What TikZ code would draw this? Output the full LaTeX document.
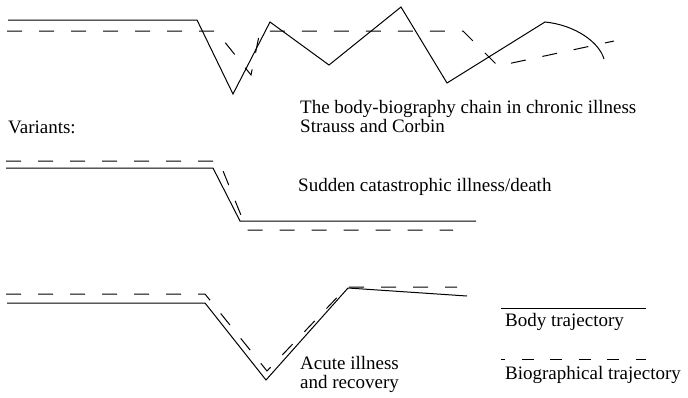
\documentclass[tikz,border=0pt]{standalone}
\usepackage{fontspec}
\setmainfont{Liberation Serif}
\tikzset{
  body/.style={line width=1pt},
  bio/.style={line width=1pt, dash pattern=on 15pt off 17pt},
  biokey/.style={line width=1pt, dash pattern=on 11.7pt off 16.7pt, dash phase=7.4pt},
  caption/.style={anchor=base west, inner sep=0pt, align=left,
                  font=\fontsize{19}{19}\selectfont},
}

\begin{document}
\begin{tikzpicture}[x=1pt, y=-1pt]
  \useasboundingbox (0,0) rectangle (688,397);

  % Chronic illness chain
  \draw[body] (8,20) -- (197,20) -- (233,94) -- (270,22) -- (329,65) -- (401,7)
    -- (447,83) -- (545,22) .. controls (575,25) and (599,42) .. (604,59);
  \draw[bio] (7,31) -- (216,31) -- (251,75) -- (260,31) -- (463,31) -- (498,66) -- (614,41);
  \node[caption] (chain) at (300,132) {The body-biography chain in chronic illness\\Strauss and Corbin};
  \node[caption] (variants) at (8,133) {Variants:};

  % Sudden catastrophic
  \draw[body] (6,168) -- (213,168) -- (240,221) -- (476,221);
  \draw[bio] (6,161) -- (219,161) -- (247,230) -- (453,230);
  \node[caption] (sudden) at (298,191) {Sudden catastrophic illness/death};

  % Acute illness and recovery
  \draw[body] (7,303) -- (205,303) -- (266,380) -- (348,288) -- (467,296);
  \draw[bio] (6,294) -- (205,294) -- (267,371) -- (347,287) -- (457,287);
  \node[caption] (acute) at (300,388) {Acute illness\\and recovery};

  % Key
  \coordinate (bodyA) at (501,308);
  \coordinate (bodyB) at (646,308);
  \coordinate (bioA) at (501,359);
  \coordinate (bioB) at (646,359);
  \draw[body] (bodyA) -- (bodyB);
  \draw[biokey] (bioA) -- (bioB);
  \node[caption] (bodykey) at (505,326) {Body trajectory};
  \node[caption] (biokey) at (505,379) {Biographical trajectory};
\end{tikzpicture}
\end{document}
